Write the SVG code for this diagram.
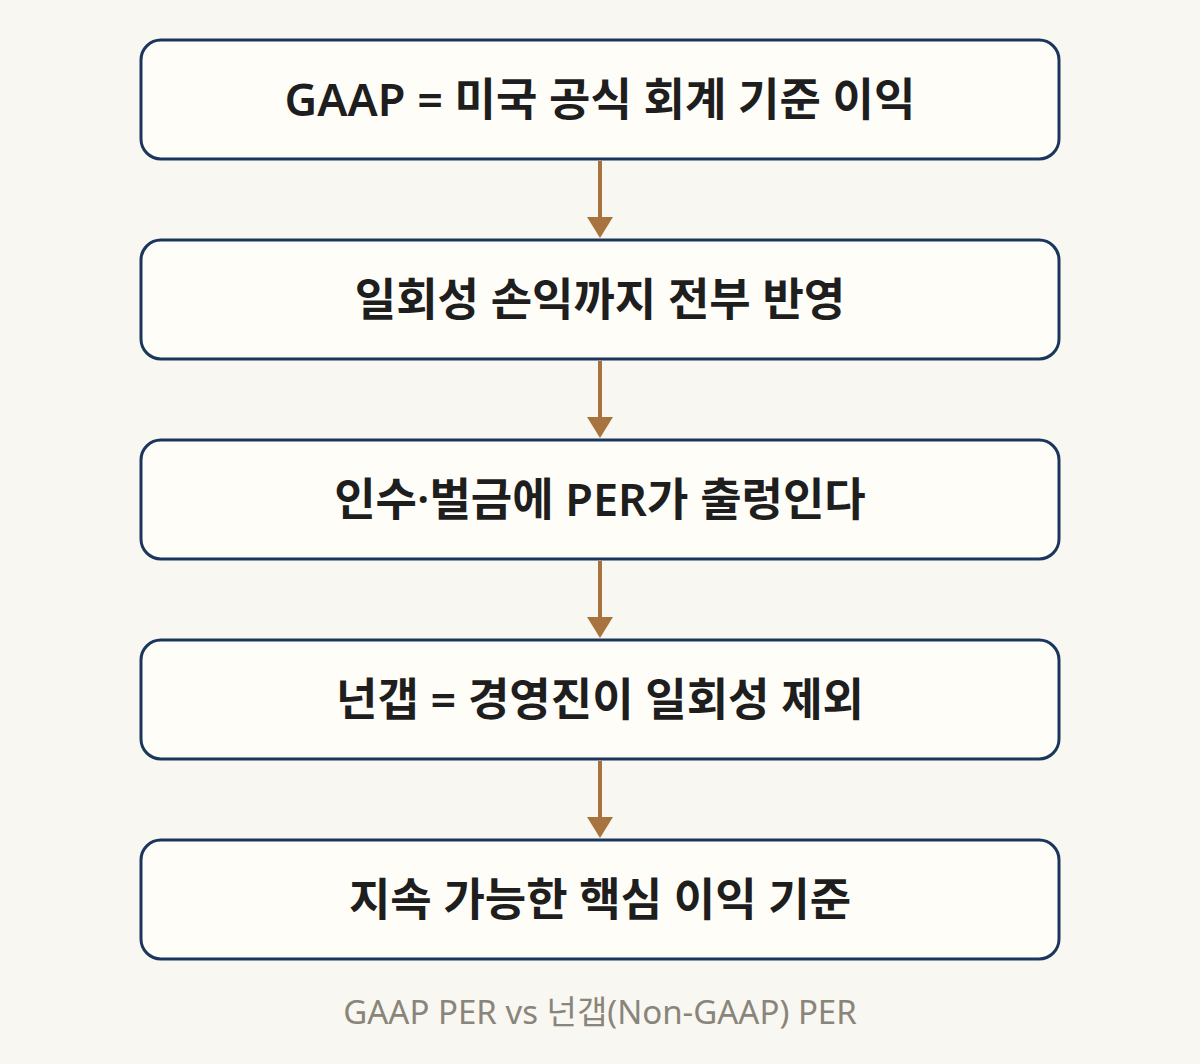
<svg xmlns="http://www.w3.org/2000/svg" width="1200" height="1064" viewBox="0 0 1200 1064">
<style>
.box{fill:#fffdf8;stroke:#1b365d;stroke-width:3}
.lbl{font-family:"Noto Sans","Noto Sans CJK KR",sans-serif;font-size:45px;font-weight:600;fill:#1e1e1e;text-anchor:middle}
.conn{stroke:#a8733e;stroke-width:4;fill:none}
.cap{font-family:"Noto Sans","Noto Sans CJK KR",sans-serif;font-size:33px;font-weight:400;fill:#8a857a;text-anchor:middle}
</style>
<rect width="1200" height="1064" fill="#f9f7f1"/>
<g id="connectors">
<line class="conn" x1="600" y1="161" x2="600" y2="218"/><path d="M587,217 L613,217 L600,238 Z" fill="#a8733e"/>
<line class="conn" x1="600" y1="361" x2="600" y2="418"/><path d="M587,417 L613,417 L600,438 Z" fill="#a8733e"/>
<line class="conn" x1="600" y1="561" x2="600" y2="618"/><path d="M587,617 L613,617 L600,638 Z" fill="#a8733e"/>
<line class="conn" x1="600" y1="761" x2="600" y2="818"/><path d="M587,817 L613,817 L600,838 Z" fill="#a8733e"/>
</g>
<g id="n1"><rect class="box" x="141" y="40" width="918" height="119" rx="20"/><text class="lbl" x="600" y="116">GAAP = 미국 공식 회계 기준 이익</text></g>
<g id="n2"><rect class="box" x="141" y="240" width="918" height="119" rx="20"/><text class="lbl" x="600" y="316">일회성 손익까지 전부 반영</text></g>
<g id="n3"><rect class="box" x="141" y="440" width="918" height="119" rx="20"/><text class="lbl" x="600" y="516">인수·벌금에 PER가 출렁인다</text></g>
<g id="n4"><rect class="box" x="141" y="640" width="918" height="119" rx="20"/><text class="lbl" x="600" y="716">넌갭 = 경영진이 일회성 제외</text></g>
<g id="n5"><rect class="box" x="141" y="840" width="918" height="119" rx="20"/><text class="lbl" x="600" y="916">지속 가능한 핵심 이익 기준</text></g>
<text class="cap" x="600" y="1024">GAAP PER vs 넌갭(Non-GAAP) PER</text>
</svg>
